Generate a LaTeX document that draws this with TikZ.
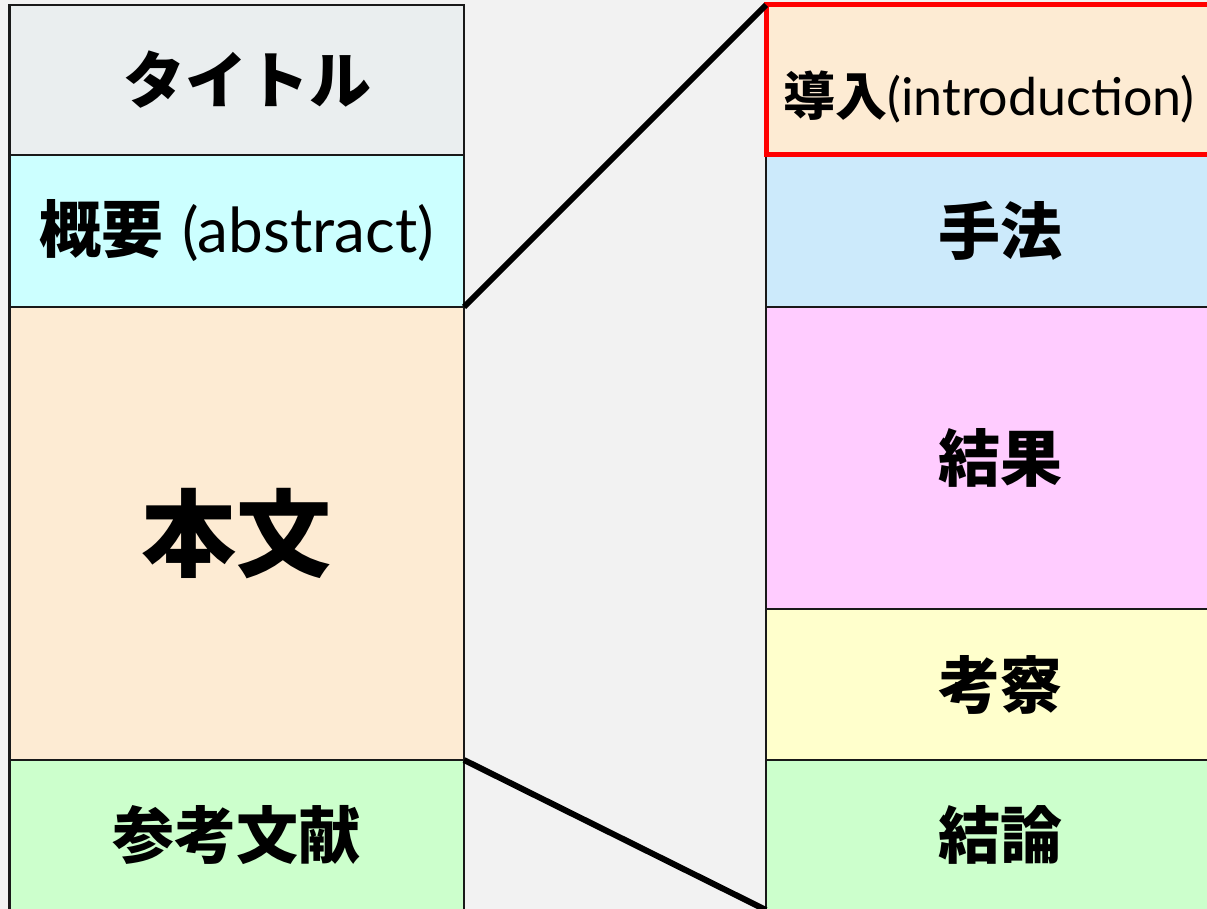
\documentclass[tikz,border=0pt]{standalone}
\usepackage{fontspec}
\setmainfont{Lato}
\newfontfamily\jp{Noto Sans CJK JP}
\usetikzlibrary{positioning}
\definecolor{bggray}{HTML}{F2F2F2}
\definecolor{titlegray}{HTML}{EAEEEF}
\definecolor{cyanpale}{HTML}{CCFFFF}
\definecolor{peach}{HTML}{FDEBD3}
\definecolor{greenpale}{HTML}{CCFFCC}
\definecolor{bluepale}{HTML}{CCEAFB}
\definecolor{pinkpale}{HTML}{FFCCFF}
\definecolor{yellowpale}{HTML}{FFFFCC}
\tikzset{
  part/.style={
    rectangle, draw=black!90, line width=2.5pt, inner sep=0pt, outer sep=0pt,
    minimum width=454.5pt, text centered,
    font=\jp\bfseries\fontsize{62}{70}\selectfont
  },
  subpart/.style={
    part, minimum width=468pt
  },
  zoomline/.style={
    line width=6pt, color=black
  }
}
\newcommand{\latin}[1]{{\rmfamily\mdseries #1}}

\begin{document}
\begin{tikzpicture}[x=1pt, y=-1pt]
\useasboundingbox (0,0) rectangle (1207,909);
\fill[bggray] (0,0) rectangle (1207,909);

% Paper (left column)
\node (title) [part, fill=titlegray, minimum height=150pt] at (236.75,80) {\hspace{22pt}タイトル};
\node (abstract) [part, fill=cyanpale, minimum height=152pt, below=0pt of title] {概要\hspace{0.3em}\latin{(abstract)}};
\node (body) [part, fill=peach, minimum height=453pt, below=0pt of abstract, font=\jp\bfseries\fontsize{95}{100}\selectfont] {本文};
\node (refs) [part, fill=greenpale, minimum height=150pt, below=0pt of body] {参考文献};

% Body sections (right column)
\node (method) [subpart, fill=bluepale, minimum height=152pt, right=302pt of abstract] {手法};
\node (result) [subpart, fill=pinkpale, minimum height=302pt, below=0pt of method] {結果};
\node (discussion) [subpart, fill=yellowpale, minimum height=151pt, below=0pt of result] {考察};
\node (conclusion) [subpart, fill=greenpale, minimum height=150pt, below=0pt of discussion] {結論};
\node (intro) [subpart, fill=peach, draw=red, line width=5pt, minimum height=150pt, above=0pt of method] {};
\node (introlabel) [font=\jp\bfseries\fontsize{52}{60}\selectfont, xshift=-11pt, yshift=-17pt] at (intro.center) {導入\latin{(introduction)}};

% Zoom lines
\draw [zoomline] (abstract.south east) -- (intro.north west);
\draw [zoomline] (body.south east) -- (conclusion.south west);

\end{tikzpicture}
\end{document}
